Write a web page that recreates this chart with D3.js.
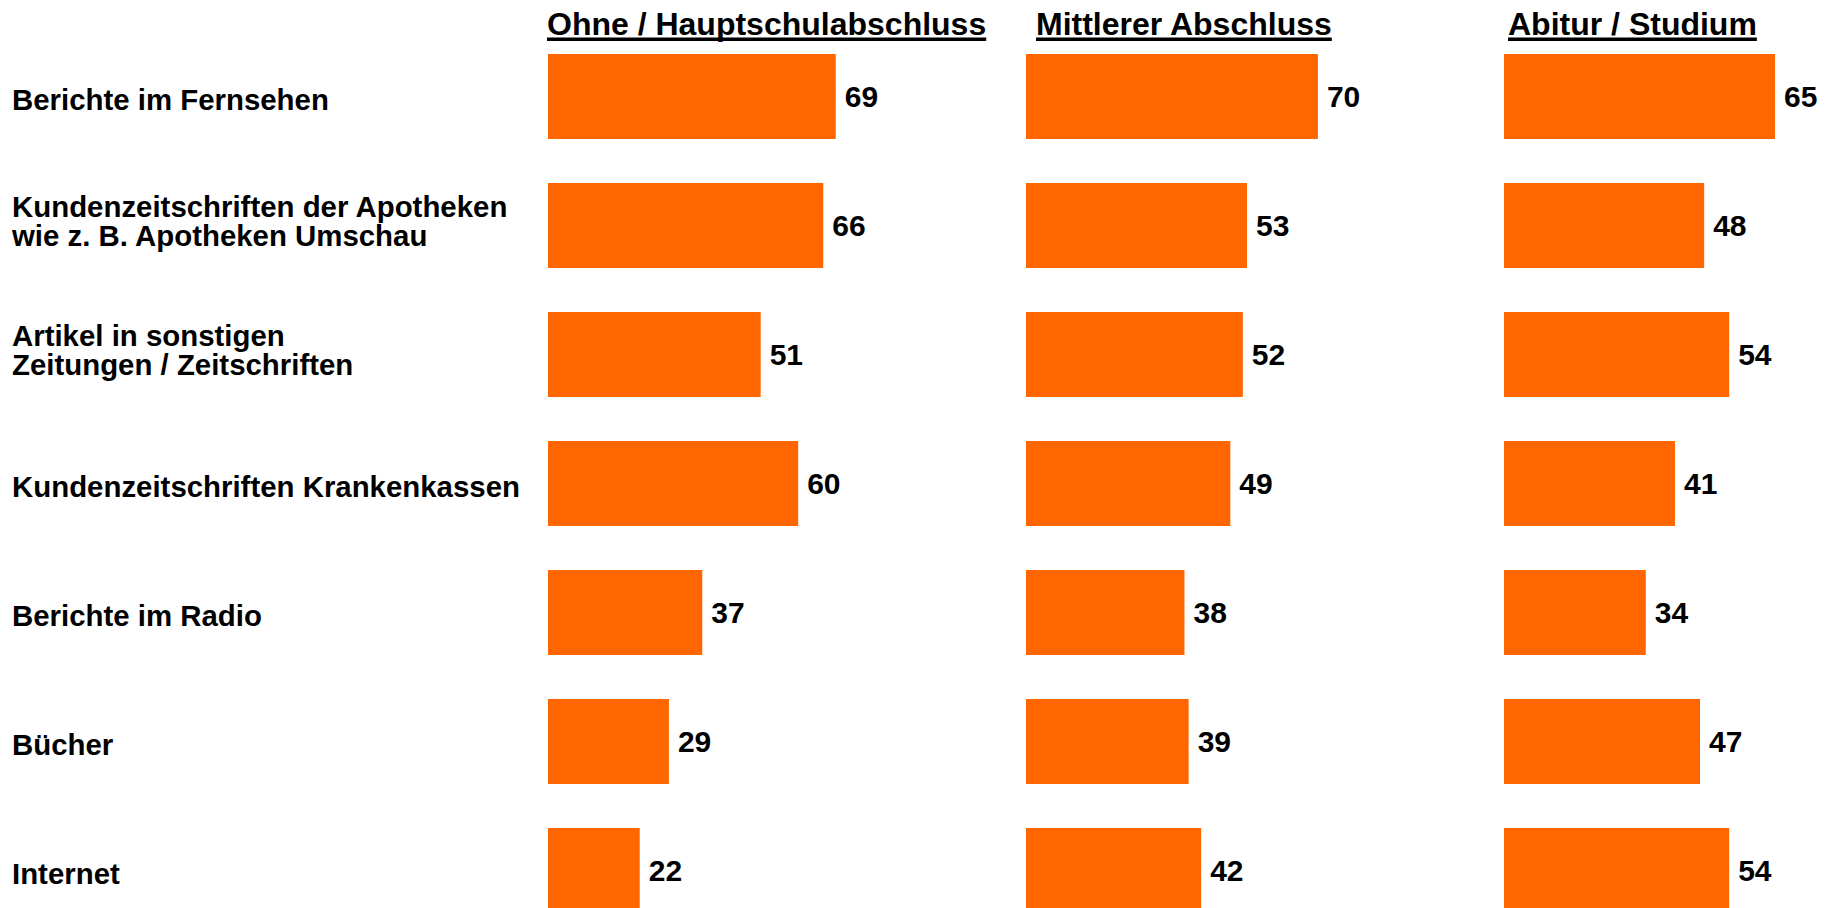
<!DOCTYPE html>
<html>
<head>
<meta charset="utf-8">
<script src="https://cdn.jsdelivr.net/npm/d3@7"></script>
<style>
  html, body { margin: 0; padding: 0; background: #fff; }
  svg text { font-family: "Liberation Sans", Arial, sans-serif; font-weight: bold; fill: #000; }
</style>
</head>
<body>
<div id="chart"></div>
<script>
const categories = [
    "Berichte im Fernsehen",
    "Kundenzeitschriften der Apotheken\nwie z. B. Apotheken Umschau",
    "Artikel in sonstigen\nZeitungen / Zeitschriften",
    "Kundenzeitschriften Krankenkassen",
    "Berichte im Radio",
    "Bücher",
    "Internet"
];
const groups = ["Ohne / Hauptschulabschluss", "Mittlerer Abschluss", "Abitur / Studium"];
const ohne = [69, 66, 51, 60, 37, 29, 22];
const mittlerer = [70, 53, 52, 49, 38, 39, 42];
const abitur = [65, 48, 54, 41, 34, 47, 54];

const series = [ohne, mittlerer, abitur];

const width = 1833;
const height = 908;
const headerShift = [-1, 10, 4];

const svg = d3.select("#chart")
    .append("svg")
    .attr("width", width)
    .attr("height", height);

const y = d3.scaleBand()
    .domain(categories)
    .range([54, 913])
    .paddingInner(0.341)
    .paddingOuter(0);

const col = d3.scaleBand()
    .domain(groups)
    .range([548, 548 + 3 * 478])
    .padding(0);

const x = d3.scaleLinear()
    .domain([0, 100])
    .range([0, 417]);

// category labels (multi-line labels as one text with tspans)
const labels = svg.append("g").style("font-size", "29.4px");
categories.forEach((c) => {
    const lines = c.split("\n");
    const yc = y(c) + y.bandwidth() / 2 + (lines.length > 1 ? -5 : 3);
    const top = yc - (lines.length - 1) / 2 * 29 + 10.5;
    const t = labels.append("text").attr("x", 12).attr("y", top);
    lines.forEach((line, i) => {
        t.append("tspan")
            .attr("x", 12)
            .attr("dy", i === 0 ? 0 : 29)
            .text(line);
    });
});

// column headers with underline
groups.forEach((g, gi) => {
    const hx = col(g) + headerShift[gi];
    const t = svg.append("text")
        .attr("x", hx)
        .attr("y", 35)
        .style("font-size", "32px")
        .text(g);
    const w = t.node().getComputedTextLength();
    svg.append("rect")
        .attr("x", hx)
        .attr("y", 37.5)
        .attr("width", w)
        .attr("height", 3.5)
        .attr("fill", "#000");
});

// bars + values
series.forEach((vals, gi) => {
    const g = svg.append("g")
        .attr("transform", `translate(${col(groups[gi])},0)`);
    const data = categories.map((c, i) => ({ cat: c, value: vals[i] }));

    g.selectAll("rect")
        .data(data)
        .join("rect")
        .attr("x", x(0))
        .attr("y", (d) => y(d.cat))
        .attr("width", (d) => x(d.value) - x(0))
        .attr("height", y.bandwidth())
        .attr("fill", "#FF6600");

    g.selectAll("text.val")
        .data(data)
        .join("text")
        .attr("class", "val")
        .attr("x", (d) => x(d.value) + 9)
        .attr("y", (d) => y(d.cat) + y.bandwidth() / 2 + 10.5)
        .style("font-size", "30px")
        .text((d) => d.value);
});
</script>
</body>
</html>
